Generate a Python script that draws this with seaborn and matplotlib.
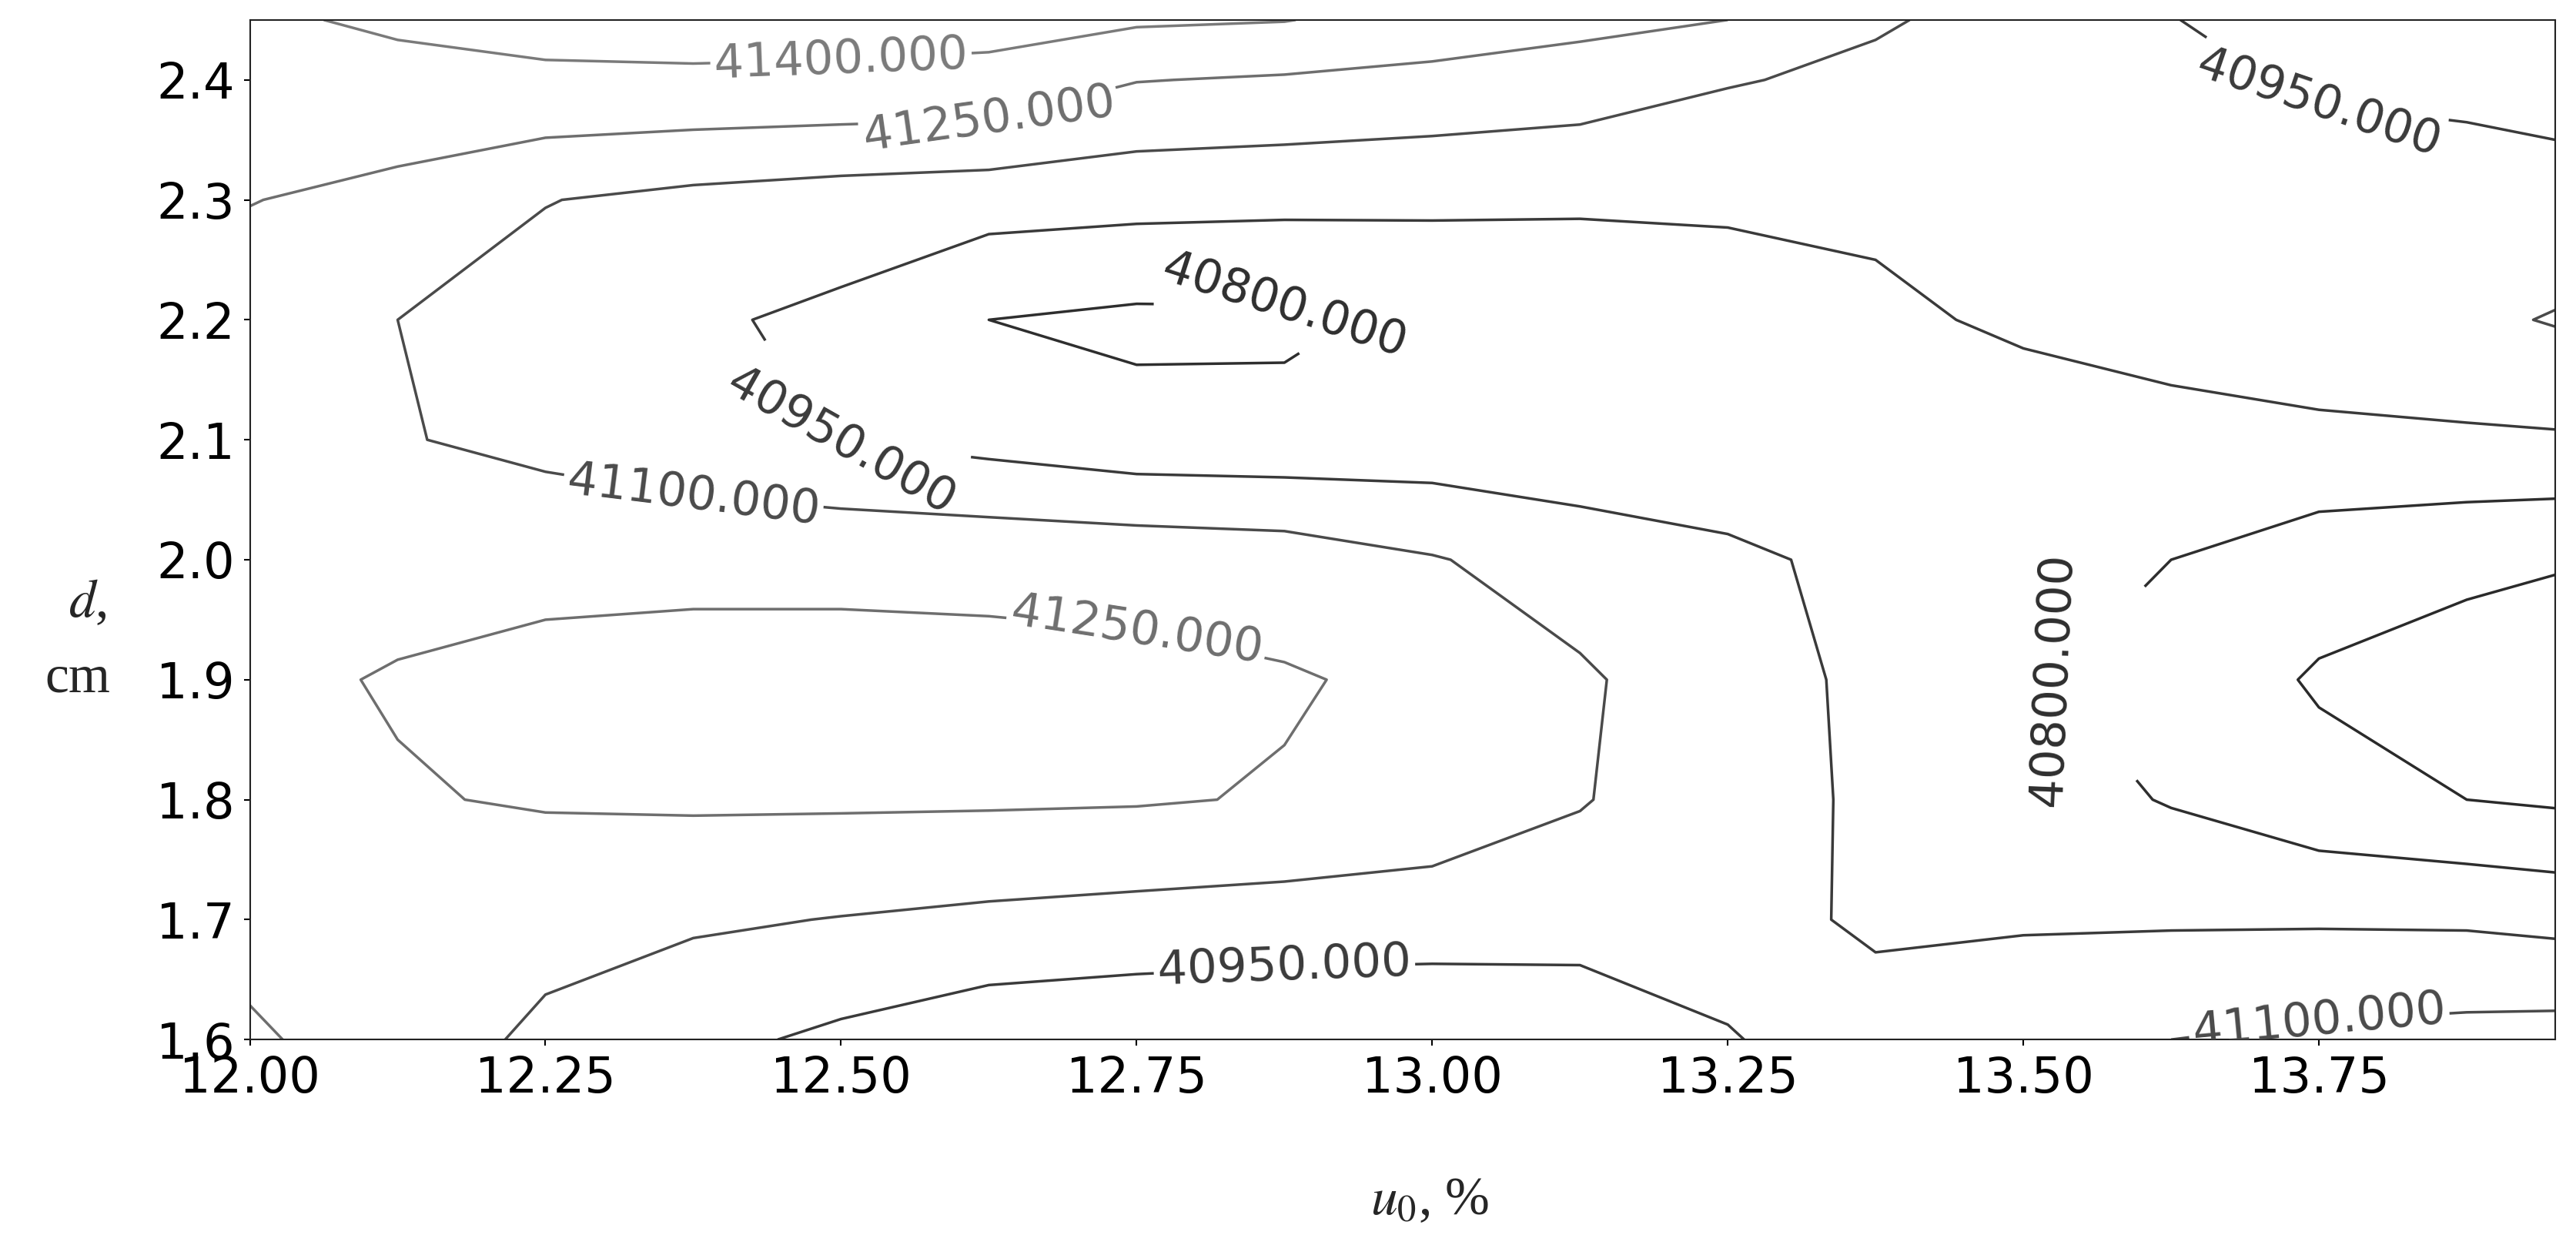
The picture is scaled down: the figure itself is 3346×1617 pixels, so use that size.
import numpy as np
import seaborn as sns
import matplotlib.pyplot as plt

# grid
u0 = [12.0, 12.125, 12.25, 12.375, 12.5, 12.625, 12.75, 12.875, 13.0,
      13.125, 13.25, 13.375, 13.5, 13.625, 13.75, 13.875, 13.95]
d = [1.6, 1.7, 1.8, 1.9, 2.0, 2.1, 2.2, 2.3, 2.4, 2.45]

z_160 = [41270, 41180, 41070, 40990, 40920, 40850, 40830, 40820, 40830, 40860, 40945, 40990, 41050, 41100, 41130, 41150, 41160]
z_170 = [41200, 41180, 41150, 41120, 41095, 41070, 41050, 41035, 41020, 41005, 40985, 40935, 40935, 40935, 40935, 40930, 40910]
z_180 = [41210, 41240, 41262, 41270, 41270, 41268, 41262, 41240, 41200, 41110, 41000, 40930, 40870, 40790, 40700, 40650, 40630]
z_190 = [41220, 41260, 41290, 41300, 41300, 41295, 41285, 41262, 41220, 41120, 41010, 40920, 40815, 40740, 40635, 40590, 40580]
z_200 = [41180, 41200, 41210, 41215, 41215, 41210, 41200, 41180, 41110, 41030, 40980, 40910, 40840, 40800, 40720, 40680, 40660]
z_210 = [41150, 41110, 41060, 41000, 40945, 40900, 40850, 40845, 40860, 40850, 40840, 40850, 40870, 40900, 40920, 40930, 40935]
z_220 = [41160, 41100, 41030, 40970, 40920, 40800, 40770, 40775, 40830, 40870, 40900, 40920, 40975, 41010, 41040, 41070, 41110]
z_230 = [41255, 41200, 41105, 41060, 41030, 41010, 40995, 40985, 40975, 40965, 40965, 40980, 41000, 41010, 41010, 41005, 40990]
z_240 = [41360, 41380, 41385, 41385, 41380, 41370, 41255, 41235, 41210, 41180, 41110, 41070, 41030, 40980, 40935, 40920, 40910]
z_245 = [41390, 41410, 41430, 41440, 41440, 41435, 41420, 41405, 41340, 41290, 41250, 41115, 41050, 40952, 40920, 40900, 40890]

levels = [40650, 40800, 40950, 41100, 41250, 41400]
label_levels = [40800, 40950, 41100, 41250, 41400]
level_colors = ['#2a2a2a', '#2e2e2e', '#3a3a3a', '#4a4a4a', '#6e6e6e', '#7a7a7a']

Z = np.array([z_160, z_170, z_180, z_190, z_200, z_210, z_220, z_230, z_240, z_245])
X, Y = np.meshgrid(u0, d)

sns.set_theme(style='white')
plt.rcParams['font.family'] = ['DejaVu Sans']

fig = plt.figure(figsize=(33.46, 16.17), dpi=100)
ax = fig.add_axes([0.097, 0.165, 0.895, 0.819])

cs = ax.contour(X, Y, Z, levels=levels, colors=level_colors, linewidths=2.5)
ax.clabel(cs, levels=label_levels, fmt='%.3f', fontsize=44, inline=True)

ax.set_xlim(12.0, 13.95)
ax.set_ylim(1.6, 2.45)
ax.set_xticks([12.0, 12.25, 12.5, 12.75, 13.0, 13.25, 13.5, 13.75])
ax.set_xticklabels(['12.00', '12.25', '12.50', '12.75', '13.00', '13.25', '13.50', '13.75'])
ax.set_yticks([1.6, 1.7, 1.8, 1.9, 2.0, 2.1, 2.2, 2.3, 2.4])
ax.tick_params(labelsize=46, length=6, width=1.5, direction='out', colors='black', pad=8)
ax.xaxis.set_ticks_position('bottom')
ax.yaxis.set_ticks_position('left')
for s in ax.spines.values():
    s.set_color('#222222')
    s.set_linewidth(1.5)

fig.text(0.034, 0.515, r'$\mathit{d}$,', fontsize=50, family='Liberation Serif', ha='center', va='center', math_fontfamily='stix')
fig.text(0.030, 0.455, 'cm', fontsize=50, family='Liberation Serif', ha='center', va='center')
fig.text(0.555, 0.035, r'$u_0$, %', fontsize=50, family='Liberation Serif', ha='center', va='center', math_fontfamily='stix')

fig.savefig('out.png', dpi=100, facecolor='white')
